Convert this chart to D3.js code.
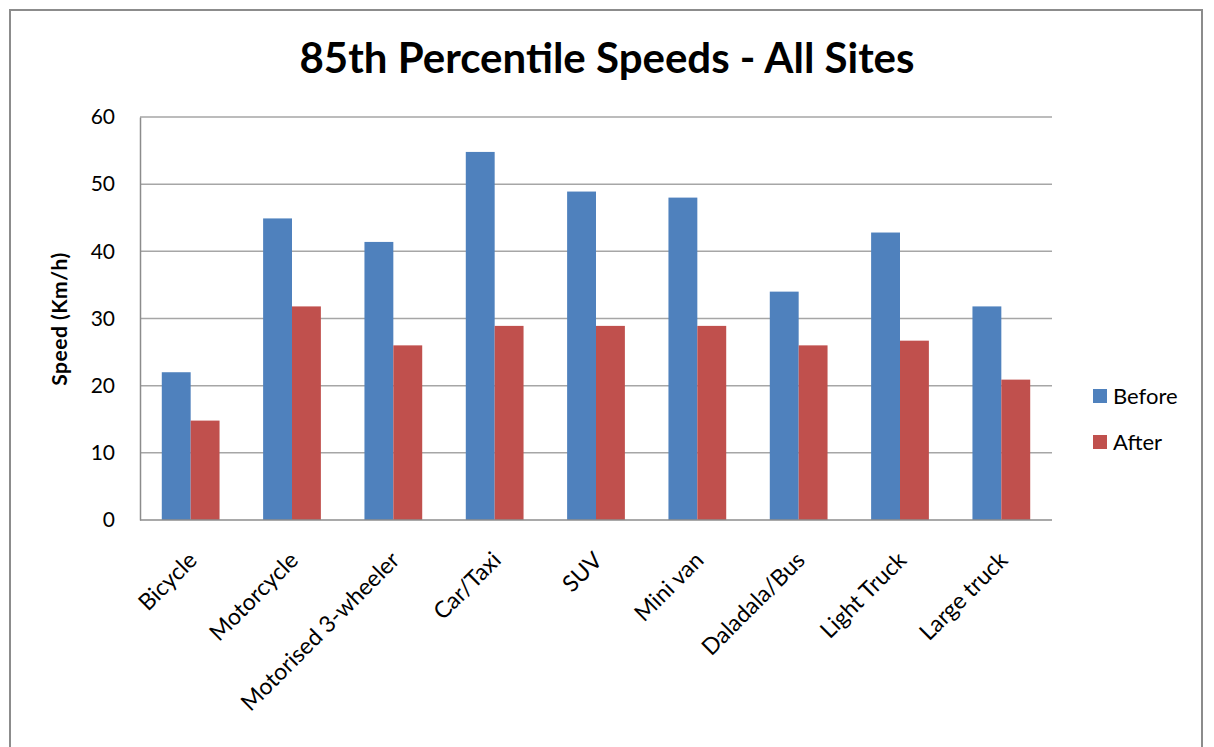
<!DOCTYPE html>
<html>
<head>
<meta charset="utf-8">
<script src="https://cdn.jsdelivr.net/npm/d3@7"></script>
<style>
  html, body { margin: 0; padding: 0; background: #fff; }
  svg { display: block; }
  text { font-family: Lato, "Open Sans", sans-serif; fill: #000; }
</style>
</head>
<body>
<svg id="chart" width="1214" height="747"></svg>
<script>
// Vehicle classes along the x axis
const categories = ["Bicycle", "Motorcycle", "Motorised 3-wheeler", "Car/Taxi", "SUV",
                    "Mini van", "Daladala/Bus", "Light Truck", "Large truck"];
// 85th percentile speeds (km/h)
const before = [22, 44.9, 41.4, 54.8, 48.9, 48.0, 34.0, 42.8, 31.8];
const after  = [14.8, 31.8, 26.0, 28.9, 28.9, 28.9, 26.0, 26.7, 20.9];
const seriesNames = ["Before", "After"];
const seriesColors = ["#4f81bd", "#c0504d"];
const yTicks = [0, 10, 20, 30, 40, 50, 60];

const svg = d3.select("#chart");
const W = 1214, H = 747;
svg.append("rect").attr("width", W).attr("height", H).attr("fill", "#fff");

// Outer chart frame
svg.append("rect")
  .attr("x", 10).attr("y", 10).attr("width", 1192).attr("height", 800)
  .attr("fill", "none").attr("stroke", "#8c8c8c").attr("stroke-width", 2);

const plot = { left: 140, top: 117, right: 1052, bottom: 520 };

const x = d3.scaleBand()
  .domain(categories)
  .range([plot.left, plot.right])
  .paddingInner(0.43)
  .paddingOuter(0.215);

const xs = d3.scaleBand().domain(seriesNames).range([0, x.bandwidth()]);

const y = d3.scaleLinear().domain([0, 60]).range([plot.bottom, plot.top]);

// Horizontal gridlines
svg.append("g")
  .selectAll("line")
  .data(yTicks.filter(d => d > 0))
  .join("line")
  .attr("x1", plot.left).attr("x2", plot.right)
  .attr("y1", d => y(d)).attr("y2", d => y(d))
  .attr("stroke", "#a6a6a6").attr("stroke-width", 1.5);

// Y axis
const yAxis = svg.append("g")
  .attr("transform", `translate(${plot.left},0)`)
  .call(d3.axisLeft(y).tickValues(yTicks).tickSize(0).tickPadding(25));
yAxis.select(".domain").attr("stroke", "#8c8c8c").attr("stroke-width", 1.5);
yAxis.selectAll("text")
  .style("font-family", "Lato, sans-serif")
  .style("font-size", "21px")
  .attr("fill", "#222");

// Bars
const rows = categories.map((c, i) => ({ c, vals: [before[i], after[i]] }));
const groups = svg.append("g")
  .selectAll("g")
  .data(rows)
  .join("g")
  .attr("transform", d => `translate(${x(d.c)},0)`);

groups.selectAll("rect")
  .data(d => d.vals.map((v, k) => ({ v, k })))
  .join("rect")
  .attr("x", d => xs(seriesNames[d.k]))
  .attr("width", xs.bandwidth())
  .attr("y", d => y(d.v))
  .attr("height", d => y(0) - y(d.v))
  .attr("fill", d => seriesColors[d.k]);

// X axis baseline
svg.append("line")
  .attr("x1", plot.left).attr("x2", plot.right)
  .attr("y1", plot.bottom).attr("y2", plot.bottom)
  .attr("stroke", "#8c8c8c").attr("stroke-width", 1.5);

// Rotated category labels
svg.append("g")
  .selectAll("text")
  .data(categories)
  .join("text")
  .attr("transform", d => `translate(${x(d) + x.bandwidth() / 2 + 2},${plot.bottom + 36}) rotate(-45)`)
  .attr("text-anchor", "end")
  .attr("dy", "0.35em")
  .style("font-size", "23px")
  .text(d => d);

// Title
svg.append("text")
  .attr("x", 607).attr("y", 73)
  .attr("text-anchor", "middle")
  .style("font-size", "42px")
  .style("font-weight", "bold")
  .text("85th Percentile Speeds - All Sites");

// Y axis title
svg.append("text")
  .attr("transform", `translate(60,319) rotate(-90)`)
  .attr("text-anchor", "middle")
  .attr("dy", "0.35em")
  .style("font-size", "21px")
  .style("font-weight", "bold")
  .style("letter-spacing", "0.5px")
  .text("Speed (Km/h)");

// Legend
const legend = svg.append("g")
  .selectAll("g")
  .data(seriesNames)
  .join("g")
  .attr("transform", (d, i) => `translate(1093,${389 + i * 46})`);
legend.append("rect")
  .attr("width", 14).attr("height", 14)
  .attr("fill", (d, i) => seriesColors[i]);
legend.append("text")
  .attr("x", 20).attr("y", 7).attr("dy", "0.35em")
  .style("font-size", "22px")
  .text(d => d);
</script>
</body>
</html>
